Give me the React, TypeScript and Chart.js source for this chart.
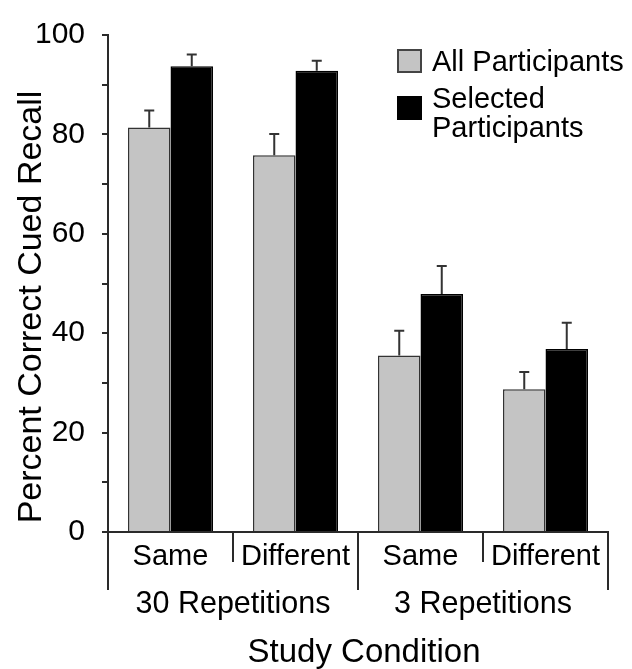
import React, { useEffect, useRef } from "react";
import { Chart, registerables } from "chart.js";

Chart.register(...registerables);

const conditions = ["Same", "Different", "Same", "Different"];
const groupLabels = ["30 Repetitions", "3 Repetitions"];
const groupSpans = [2, 2];
const seriesNames = ["All Participants", "Selected Participants"];
const legendLines = [["All Participants"], ["Selected", "Participants"]];
const allParticipants = [81.4, 75.8, 35.5, 28.7];
const allErrors = [3.4, 4.3, 5.0, 3.5];
const selectedParticipants = [93.7, 92.8, 47.9, 36.8];
const selectedErrors = [2.4, 2.0, 5.6, 5.3];
const yTickValues = [0, 20, 40, 60, 80, 100];
const yTitle = "Percent Correct Cued Recall";
const xTitle = "Study Condition";

const FONT = "'Liberation Sans', Arial, Helvetica, sans-serif";
const GRAY = "#c4c4c4";
const DARK = "#2a2a2a";

const errorBarPlugin = {
  id: "errorBars",
  afterDatasetsDraw(chart: any) {
    const ctx = chart.ctx;
    const yScale = chart.scales.y;
    const errs = [allErrors, selectedErrors];
    ctx.save();
    ctx.strokeStyle = "#333";
    ctx.lineWidth = 2;
    chart.data.datasets.forEach((ds: any, di: number) => {
      const meta = chart.getDatasetMeta(di);
      meta.data.forEach((bar: any, i: number) => {
        const v = ds.data[i];
        const top = yScale.getPixelForValue(v + errs[di][i]);
        ctx.beginPath();
        ctx.moveTo(bar.x, bar.y);
        ctx.lineTo(bar.x, top);
        ctx.moveTo(bar.x - 5, top);
        ctx.lineTo(bar.x + 5, top);
        ctx.stroke();
      });
    });
    ctx.restore();
  },
};

const axisDecorPlugin = {
  id: "axisDecor",
  afterDraw(chart: any) {
    const ctx = chart.ctx;
    const x = chart.scales.x;
    const area = chart.chartArea;
    const n = conditions.length;
    const bottom = area.bottom;
    const boundary = (k: number) => {
      if (k === 0) return area.left;
      if (k === n) return area.right;
      return (x.getPixelForValue(k - 1) + x.getPixelForValue(k)) / 2;
    };
    const groupEdges: number[] = [0];
    groupSpans.forEach((s) => groupEdges.push(groupEdges[groupEdges.length - 1] + s));
    ctx.save();
    ctx.strokeStyle = DARK;
    ctx.lineWidth = 2;
    for (let k = 0; k <= n; k++) {
      const bx = boundary(k);
      const long = groupEdges.indexOf(k) >= 0;
      ctx.beginPath();
      ctx.moveTo(bx, bottom);
      ctx.lineTo(bx, bottom + (long ? 58 : 30));
      ctx.stroke();
    }
    ctx.fillStyle = "#000";
    ctx.textAlign = "center";
    ctx.textBaseline = "alphabetic";
    ctx.font = `29px ${FONT}`;
    conditions.forEach((c, i) => {
      ctx.fillText(c, x.getPixelForValue(i), bottom + 33);
    });
    ctx.font = `30.5px ${FONT}`;
    groupLabels.forEach((g, gi) => {
      const cx = (boundary(groupEdges[gi]) + boundary(groupEdges[gi + 1])) / 2;
      ctx.fillText(g, cx, bottom + 81);
    });
    ctx.font = `33px ${FONT}`;
    ctx.fillText(xTitle, (area.left + area.right) / 2 + 6, bottom + 130);

    // y title
    ctx.save();
    ctx.translate(41, 307);
    ctx.rotate(-Math.PI / 2);
    ctx.font = `34px ${FONT}`;
    ctx.textAlign = "center";
    ctx.fillText(yTitle, 0, 0);
    ctx.restore();

    // legend
    const colors = [GRAY, "#000"];
    const lx = 398;
    const boxTops = [50, 97];
    const baselines = [[71], [108, 137]];
    ctx.font = `29px ${FONT}`;
    ctx.textAlign = "left";
    legendLines.forEach((lines, li) => {
      ctx.fillStyle = colors[li];
      ctx.fillRect(lx, boxTops[li], 23, 22);
      ctx.strokeStyle = li === 0 ? "#444" : "#000";
      ctx.lineWidth = 2;
      ctx.strokeRect(lx, boxTops[li], 23, 22);
      ctx.fillStyle = "#000";
      lines.forEach((t, ti) => ctx.fillText(t, lx + 34, baselines[li][ti]));
    });
    ctx.restore();
  },
};

export default function App() {
  const ref = useRef<HTMLCanvasElement | null>(null);
  useEffect(() => {
    if (!ref.current) return;
    const chart = new Chart(ref.current, {
      type: "bar",
      data: {
        labels: conditions,
        datasets: [
          {
            label: seriesNames[0],
            data: allParticipants,
            backgroundColor: GRAY,
            borderColor: "#333",
            borderWidth: 1.5,
            categoryPercentage: 0.68,
            barPercentage: 1.0,
          },
          {
            label: seriesNames[1],
            data: selectedParticipants,
            backgroundColor: "#000",
            borderColor: "#000",
            borderWidth: 1.5,
            categoryPercentage: 0.68,
            barPercentage: 1.0,
          },
        ],
      },
      options: {
        responsive: false,
        maintainAspectRatio: false,
        animation: false,
        devicePixelRatio: 1,
        layout: { padding: { top: 27, right: 24, bottom: 0, left: 0 } },
        plugins: {
          legend: { display: false },
          tooltip: { enabled: false },
        },
        scales: {
          x: {
            type: "category",
            ticks: { display: false },
            grid: { display: false, drawTicks: false },
            border: { display: true, color: DARK, width: 2 },
            afterFit: (s: any) => {
              s.height = 137;
            },
          },
          y: {
            min: 0,
            max: 100,
            ticks: {
              stepSize: 10,
              autoSkip: false,
              padding: 17,
              color: "#000",
              font: { family: FONT, size: 30 },
              callback: (v: any) => (yTickValues.includes(Number(v)) ? String(v) : ""),
            },
            grid: {
              drawOnChartArea: false,
              drawTicks: true,
              tickLength: 6,
              color: DARK,
              lineWidth: 2,
            },
            border: { display: true, color: DARK, width: 2 },
            afterFit: (s: any) => {
              s.width = 108;
            },
          },
        },
      },
      plugins: [errorBarPlugin, axisDecorPlugin],
    });
    return () => chart.destroy();
  }, []);
  return (
    <div style={{ position: "fixed", left: 0, top: 0, width: 632, height: 669, background: "#fff" }}>
      <canvas ref={ref} width={632} height={669} style={{ display: "block" }} />
    </div>
  );
}
